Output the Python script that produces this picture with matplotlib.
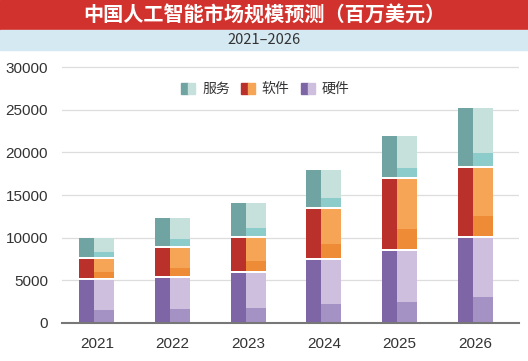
import matplotlib
matplotlib.use("Agg")
import matplotlib.pyplot as plt
from matplotlib.patches import Patch, Rectangle
from matplotlib.legend_handler import HandlerTuple
import numpy as np

plt.rcParams["font.family"] = ["Noto Sans CJK SC", "DejaVu Sans"]

# ── Data (百万美元) ────────────────────────────────────────────────────────────
YEARS = ["2021", "2022", "2023", "2024", "2025", "2026"]
hardware = [5000, 5300, 5900, 7400, 8400, 10000]
software = [2500, 3500, 4100, 6000, 8500, 8200]
service = [2500, 3500, 4100, 4500, 5000, 7000]
SERIES_NAMES = ["服务", "软件", "硬件"]

# (dark side, light face, lower shade)
COLORS = {
    "hardware": ("#7e66a6", "#cdbfdd", "#a592c4"),
    "software": ("#b9312a", "#f6a455", "#ee8b36"),
    "service":  ("#6fa4a3", "#c6e0dc", "#8ccdcc"),
}

fig = plt.figure(figsize=(5.28, 3.61), dpi=100)

# ── Header bands ──────────────────────────────────────────────────────────────
fig.patches.append(Rectangle((0, 1 - 30 / 361), 1, 30 / 361, transform=fig.transFigure,
                             color="#d2322d", zorder=0))
fig.patches.append(Rectangle((0, 1 - 50 / 361), 1, 20 / 361, transform=fig.transFigure,
                             color="#d5e9f2", zorder=0))
fig.text(0.5, 1 - 15 / 361, "中国人工智能市场规模预测（百万美元）", ha="center", va="center",
         color="white", fontsize=14.5, fontweight="bold")
fig.text(0.5, 1 - 40.5 / 361, "2021\u20132026", ha="center", va="center",
         color="#333333", fontsize=10.5)

# ── Bars ──────────────────────────────────────────────────────────────────────
ax = fig.add_axes([62 / 528, 1 - 323 / 361, 457 / 528, 258.5 / 361])
x = np.arange(len(YEARS))
w = 0.46
dark_w = w * 0.43
light_w = w - dark_w
shade = {"hardware": 0.3, "software": 0.28, "service": 0.22}
gap = 220  # white seam between stacked segments

bottom = np.zeros(len(YEARS))
for i, (key, vals) in enumerate([("hardware", hardware), ("software", software),
                                 ("service", service)]):
    vals = np.array(vals, dtype=float)
    dark, light, mid = COLORS[key]
    g = gap if i > 0 else 0
    ax.bar(x - w / 2, vals - g, dark_w, bottom=bottom + g, align="edge",
           color=dark, linewidth=0, zorder=3)
    ax.bar(x - w / 2 + dark_w, vals - g, light_w, bottom=bottom + g, align="edge",
           color=light, linewidth=0, zorder=3)
    ax.bar(x - w / 2 + dark_w, vals * shade[key], light_w, bottom=bottom + g, align="edge",
           color=mid, linewidth=0, zorder=4)
    bottom += vals

ax.set_xlim(-0.46, 5.58)
ax.set_ylim(0, 30300)
ax.set_yticks(range(0, 30001, 5000))
ax.set_xticks(x)
ax.set_xticklabels(YEARS)
ax.tick_params(length=0, labelsize=11, colors="#333333")
ax.tick_params(axis="x", pad=10)
ax.tick_params(axis="y", pad=10)
for lab in ax.get_xticklabels() + ax.get_yticklabels():
    lab.set_family(["Liberation Sans", "DejaVu Sans"])
ax.grid(axis="y", color="#dddddd", lw=0.9, zorder=0)
for s in ["top", "right", "left"]:
    ax.spines[s].set_visible(False)
ax.spines["bottom"].set_color("#777777")
ax.spines["bottom"].set_linewidth(1.5)
ax.spines["bottom"].set_zorder(5)

# ── Legend (two-tone swatches) ────────────────────────────────────────────────
handles = []
for key in ["service", "software", "hardware"]:
    dark, light, _ = COLORS[key]
    handles.append((Patch(color=dark), Patch(color=light)))
ax.legend(handles, SERIES_NAMES, handler_map={tuple: HandlerTuple(ndivide=None, pad=0)},
          loc="center", bbox_to_anchor=(0.445, 0.905), ncol=3, frameon=False,
          fontsize=10, handlelength=1.0, handleheight=0.9, handletextpad=0.5,
          columnspacing=0.8, labelcolor="#333333")

fig.savefig("out.png", dpi=100)
